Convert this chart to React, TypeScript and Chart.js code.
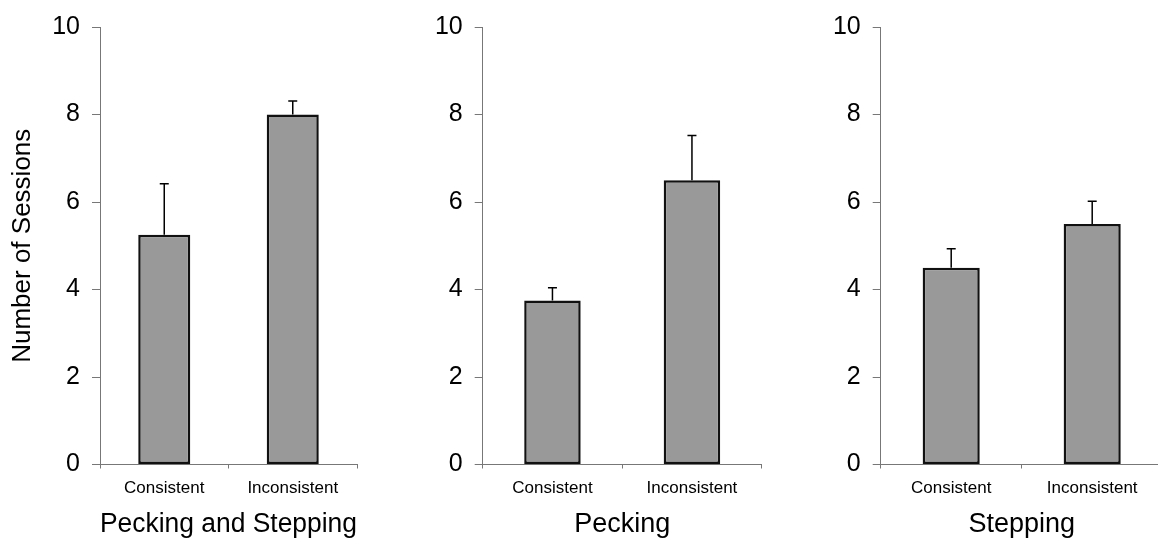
import React, { useEffect, useRef } from 'react';
import { Chart, registerables } from 'chart.js';

Chart.register(...registerables);

// ---- Data ----
const categories = ['Consistent', 'Inconsistent'];
const panelTitles = ['Pecking and Stepping', 'Pecking', 'Stepping'];
const peckingSteppingMeans = [5.25, 8.0];
const peckingSteppingErrors = [1.17, 0.31];
const peckingMeans = [3.75, 6.5];
const peckingErrors = [0.29, 1.02];
const steppingMeans = [4.5, 5.5];
const steppingErrors = [0.43, 0.52];
const yTickValues = [0, 2, 4, 6, 8, 10];
const yAxisTitle = 'Number of Sessions';

// ---- Layout (positions / sizes only) ----
const FONT = "'Liberation Sans', Arial, Helvetica, sans-serif";
const H = 539;
const panelLayouts = [
  { left: 0, width: 380, yAxisWidth: 100, plotRight: 357 },
  { left: 390, width: 390, yAxisWidth: 92.7, plotRight: 761.7 },
  { left: 780, width: 400, yAxisWidth: 100.7, plotRight: 1162.7 },
];

type PanelProps = {
  title: string;
  means: number[];
  errors: number[];
  layoutIdx: number;
  showYTitle: boolean;
};

function Panel({ title, means, errors, layoutIdx, showYTitle }: PanelProps) {
  const ref = useRef<HTMLCanvasElement | null>(null);
  const lay = panelLayouts[layoutIdx];

  useEffect(() => {
    if (!ref.current) return;
    const errorBarPlugin = {
      id: 'errorBars',
      afterDatasetsDraw(chart: any) {
        const ctx = chart.ctx;
        const meta = chart.getDatasetMeta(0);
        const ds = chart.data.datasets[0];
        const yScale = chart.scales.y;
        ctx.save();
        ctx.strokeStyle = '#000';
        ctx.lineWidth = 1.5;
        meta.data.forEach((bar: any, i: number) => {
          const v = ds.data[i] as number;
          const top = yScale.getPixelForValue(v + errors[i]);
          const x = bar.x;
          ctx.beginPath();
          ctx.moveTo(x, bar.y);
          ctx.lineTo(x, top);
          ctx.moveTo(x - 4.5, top);
          ctx.lineTo(x + 4.5, top);
          ctx.stroke();
        });
        ctx.restore();
      },
    };

    const chart = new Chart(ref.current, {
      type: 'bar',
      data: {
        labels: categories,
        datasets: [
          {
            data: means,
            backgroundColor: '#999999',
            borderColor: '#111111',
            borderWidth: 2.5,
            borderSkipped: false,
            barPercentage: 0.405,
            categoryPercentage: 1,
          },
        ],
      },
      options: {
        responsive: false,
        animation: false,
        devicePixelRatio: 1,
        layout: {
          padding: { top: 27, left: 0, bottom: 0, right: lay.width - lay.plotRight + lay.left },
        },
        plugins: {
          legend: { display: false },
          tooltip: { enabled: false },
        },
        scales: {
          x: {
            type: 'category',
            offset: true,
            grid: {
              offset: true,
              drawOnChartArea: false,
              drawTicks: true,
              tickLength: 4,
              color: '#777',
            },
            border: { display: true, color: '#777', width: 1 },
            ticks: {
              color: '#000',
              font: { family: FONT, size: 17 },
              padding: 10,
              maxRotation: 0,
            },
            title: {
              display: true,
              text: title,
              color: '#000',
              font: { family: FONT, size: 27, lineHeight: 1 },
              padding: { top: 0, bottom: 1 },
            },
            afterFit: (scale: any) => {
              scale.height = 74.5;
            },
          },
          y: {
            type: 'linear',
            min: 0,
            max: 10,
            afterBuildTicks: (scale: any) => {
              scale.ticks = yTickValues.map((v) => ({ value: v }));
            },
            grid: {
              drawOnChartArea: false,
              drawTicks: true,
              tickLength: 8,
              color: '#777',
            },
            border: { display: true, color: '#777', width: 1 },
            ticks: {
              color: '#000',
              font: { family: FONT, size: 25 },
              padding: 12,
            },
            title: {
              display: showYTitle,
              text: yAxisTitle,
              color: '#000',
              font: { family: FONT, size: 26, lineHeight: 1.2 },
              padding: { top: 7, bottom: 0 },
            },
            afterFit: (scale: any) => {
              scale.width = lay.yAxisWidth;
            },
          },
        },
      },
      plugins: [errorBarPlugin],
    } as any);

    return () => chart.destroy();
  }, [title, means, errors, layoutIdx, showYTitle]);

  return (
    <canvas
      ref={ref}
      width={lay.width}
      height={H}
      style={{ position: 'absolute', left: lay.left, top: 0, width: lay.width, height: H, display: 'block' }}
    />
  );
}

export default function App() {
  useEffect(() => {
    document.body.style.margin = '0';
  }, []);
  return (
    <div
      style={{
        position: 'absolute',
        left: 0,
        top: 0,
        width: 1158,
        height: H,
        overflow: 'hidden',
        background: '#fff',
      }}
    >
      <Panel title={panelTitles[0]} means={peckingSteppingMeans} errors={peckingSteppingErrors} layoutIdx={0} showYTitle={true} />
      <Panel title={panelTitles[1]} means={peckingMeans} errors={peckingErrors} layoutIdx={1} showYTitle={false} />
      <Panel title={panelTitles[2]} means={steppingMeans} errors={steppingErrors} layoutIdx={2} showYTitle={false} />
    </div>
  );
}
